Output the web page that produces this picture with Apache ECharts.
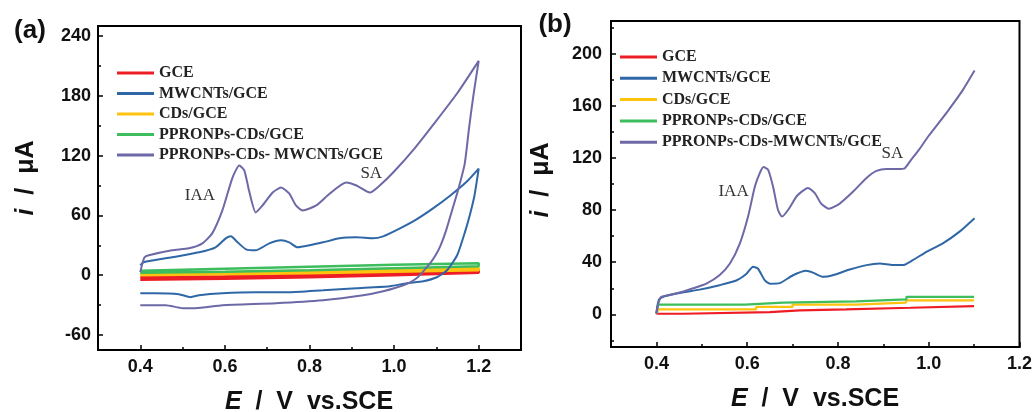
<!DOCTYPE html>
<html>
<head>
<meta charset="utf-8">
<script src="https://cdn.jsdelivr.net/npm/echarts@6/dist/echarts.min.js"></script>
<style>
html, body { margin: 0; padding: 0; background: #fff; }
#c { width: 1035px; height: 412px; }
</style>
</head>
<body>
<div id="c"></div>
<script>
// ---------- (a) cyclic voltammograms: [E / V, i / µA], forward sweep then reverse sweep ----------
const cvGCE = [[0.40, -2], [0.60, -1], [0.80, 0.5], [1.00, 2.5], [1.20, 5],
               [1.20, 2.5], [1.00, 0], [0.80, -2], [0.60, -3.5], [0.40, -4.5]];
const cvCDs = [[0.40, 1.5], [0.60, 3], [0.80, 4.5], [1.00, 6], [1.20, 7.5],
               [1.20, 5], [1.00, 3.5], [0.80, 2], [0.60, 1], [0.40, 0]];
const cvPPRONPsCDs = [[0.40, 4.5], [0.60, 6.5], [0.80, 8.5], [1.00, 10.5], [1.20, 12],
                      [1.20, 9], [1.00, 7], [0.80, 5], [0.60, 3.5], [0.40, 2.5]];
const cvMWCNTs = [
  [0.400, 10], [0.408, 13], [0.475, 18], [0.539, 23], [0.578, 28], [0.602, 37], [0.614, 39],
  [0.630, 33], [0.650, 26], [0.673, 25], [0.705, 32], [0.733, 35], [0.752, 33], [0.772, 28],
  [0.800, 30], [0.832, 33], [0.871, 37], [0.911, 38], [0.950, 37], [0.974, 39], [1.014, 47],
  [1.053, 56], [1.092, 67], [1.133, 80], [1.172, 94], [1.200, 107],
  [1.190, 80], [1.180, 62], [1.168, 44], [1.149, 20], [1.125, 5], [1.101, -2], [1.069, -6],
  [1.030, -8], [0.990, -11], [0.911, -13], [0.832, -15], [0.752, -17], [0.673, -17],
  [0.594, -18], [0.539, -20], [0.519, -22], [0.491, -19], [0.436, -18], [0.400, -18]
];
const cvComposite = [
  [0.400, 3], [0.405, 12], [0.410, 18], [0.420, 20], [0.475, 25], [0.515, 27], [0.547, 32],
  [0.570, 42], [0.594, 65], [0.618, 98], [0.634, 110], [0.646, 105], [0.657, 85], [0.673, 63],
  [0.689, 70], [0.713, 83], [0.733, 88], [0.752, 82], [0.768, 70], [0.784, 65], [0.816, 70],
  [0.848, 82], [0.887, 93], [0.911, 90], [0.943, 83], [0.966, 90], [1.000, 104], [1.050, 128],
  [1.100, 155], [1.150, 183], [1.200, 215],
  [1.187, 179], [1.177, 147], [1.167, 112], [1.151, 85], [1.137, 65], [1.123, 45], [1.110, 30],
  [1.098, 20], [1.085, 12], [1.053, -3], [1.022, -10], [0.974, -16], [0.927, -20], [0.832, -25],
  [0.720, -28], [0.594, -30], [0.530, -33], [0.500, -33], [0.460, -30], [0.400, -30]
];

// ---------- (b) differential pulse voltammograms: [E / V, i / µA] ----------
const dpGCE = [[0.400, 0.5], [0.459, 1.8], [0.650, 3.1], [0.716, 3.9], [0.818, 5.1], [0.960, 6.4], [1.100, 6.4]];
const dpCDs = [[0.400, 0.5], [0.404, 3.9], [0.620, 5.7], [0.700, 7.5], [0.840, 9.0], [0.950, 10.8], [1.100, 10.8]];
const dpPPRONPsCDs = [[0.400, 1], [0.404, 7.5], [0.595, 9.0], [0.679, 10.0], [0.840, 11.5], [0.951, 13.5], [1.100, 13.5]];
const dpMWCNTs = [
  [0.400, 0.5], [0.407, 12], [0.444, 16], [0.495, 19], [0.539, 22.4], [0.576, 26], [0.598, 31],
  [0.613, 36.5], [0.624, 35], [0.639, 26], [0.650, 23.6], [0.672, 24], [0.701, 30], [0.730, 33.4],
  [0.745, 32], [0.767, 28.8], [0.789, 30], [0.826, 34.4], [0.863, 37.8], [0.892, 39], [0.921, 37.8],
  [0.943, 37.8], [0.965, 41.6], [0.995, 48], [1.031, 54.5], [1.068, 63.5], [1.101, 73.8]
];
const dpComposite = [
  [0.400, 0.5], [0.404, 8], [0.411, 13.4], [0.444, 16], [0.481, 20], [0.510, 23.6], [0.539, 30],
  [0.562, 39], [0.584, 54.5], [0.602, 75], [0.617, 98], [0.628, 108.5], [0.636, 113], [0.646, 111],
  [0.657, 98], [0.668, 80], [0.677, 75], [0.692, 81], [0.710, 91], [0.734, 97],
  [0.749, 93], [0.763, 85], [0.780, 81], [0.804, 85], [0.833, 94], [0.863, 104.6], [0.885, 110],
  [0.907, 111.5], [0.932, 111.5], [0.947, 112], [0.960, 118], [0.980, 127], [1.000, 137],
  [1.040, 155], [1.075, 172], [1.101, 187]
];

// ---------- legend names, peak labels and axis ticks ----------
const namesA = ['GCE', 'MWCNTs/GCE', 'CDs/GCE', 'PPRONPs-CDs/GCE', 'PPRONPs-CDs- MWCNTs/GCE'];
const namesB = ['GCE', 'MWCNTs/GCE', 'CDs/GCE', 'PPRONPs-CDs/GCE', 'PPRONPs-CDs-MWCNTs/GCE'];
const peaksA = [{ name: 'IAA', coord: [0.541, 80] }, { name: 'SA', coord: [0.946, 102] }];
const peaksB = [{ name: 'IAA', coord: [0.570, 94] }, { name: 'SA', coord: [0.920, 123] }];

const xTicksA = [0.4, 0.6, 0.8, 1.0, 1.2];
const xMinorA = [0.5, 0.7, 0.9, 1.1];
const yTicksA = [-60, 0, 60, 120, 180, 240];
const yMinorA = [-30, 30, 90, 150, 210];
const xTicksB = [0.4, 0.6, 0.8, 1.0, 1.2];
const xMinorB = [0.5, 0.7, 0.9, 1.1];
const yTicksB = [0, 40, 80, 120, 160, 200];
const yMinorB = [-20, 20, 60, 100, 140, 180, 220];

const colors = {
  red: '#ee1c25',
  blue: '#2f67a6',
  yellow: '#ffc20e',
  green: '#3dbd5d',
  purple: '#6c69a6'
};

const SANS = 'Liberation Sans, Arial, sans-serif';
const SERIF = 'Liberation Serif, Times New Roman, serif';

function mainX(gi, min, max, ticks, margin) {
  return {
    type: 'value', gridIndex: gi, min: min, max: max, position: 'bottom',
    axisLine: { show: true, onZero: false, lineStyle: { color: '#000', width: 2 } },
    axisTick: { show: true, inside: true, length: 5, customValues: ticks, lineStyle: { color: '#000', width: 1.5 } },
    axisLabel: { show: true, customValues: ticks, margin: margin, formatter: v => v.toFixed(1),
                 color: '#111', fontFamily: SANS, fontWeight: 'bold', fontSize: 18 },
    splitLine: { show: false }
  };
}
function minorX(gi, min, max, ticks) {
  return {
    type: 'value', gridIndex: gi, min: min, max: max, position: 'bottom', offset: 0,
    axisLine: { show: false, onZero: false },
    axisTick: { show: true, inside: true, length: 3, customValues: ticks, lineStyle: { color: '#000', width: 1.5 } },
    axisLabel: { show: false },
    splitLine: { show: false }
  };
}
function mainY(gi, min, max, ticks, margin) {
  return {
    type: 'value', gridIndex: gi, min: min, max: max, position: 'left',
    axisLine: { show: true, onZero: false, lineStyle: { color: '#000', width: 2 } },
    axisTick: { show: true, inside: true, length: 5, customValues: ticks, lineStyle: { color: '#000', width: 1.5 } },
    axisLabel: { show: true, customValues: ticks, margin: margin,
                 color: '#111', fontFamily: SANS, fontWeight: 'bold', fontSize: 18 },
    splitLine: { show: false }
  };
}
function minorY(gi, min, max, ticks) {
  return {
    type: 'value', gridIndex: gi, min: min, max: max, position: 'left', offset: 0,
    axisLine: { show: false, onZero: false },
    axisTick: { show: true, inside: true, length: 3, customValues: ticks, lineStyle: { color: '#000', width: 1.5 } },
    axisLabel: { show: false },
    splitLine: { show: false }
  };
}

function curve(name, data, color, axisIdx, width, opts) {
  opts = opts || {};
  const s = {
    type: 'line', name: name, data: data,
    xAxisIndex: axisIdx, yAxisIndex: axisIdx,
    showSymbol: false, symbol: 'none', smooth: opts.smooth || false,
    lineStyle: { color: color, width: width },
    itemStyle: { color: color },
    animation: false
  };
  if (opts.step) s.step = 'end';
  if (opts.peaks) {
    s.markPoint = {
      symbol: 'circle', symbolSize: 1, itemStyle: { color: 'rgba(0,0,0,0)' },
      label: { show: true, position: 'inside', formatter: p => p.name,
               color: '#333', fontFamily: SERIF, fontSize: 17 },
      data: opts.peaks
    };
  }
  return s;
}

function legendAt(left, top, gap, names) {
  return {
    left: left, top: top, orient: 'vertical', icon: 'rect',
    itemWidth: 37, itemHeight: 3, itemGap: gap,
    selectedMode: false,
    textStyle: { fontFamily: SERIF, fontSize: 16, fontWeight: 'bold', color: '#222', lineHeight: 16 },
    data: names
  };
}

const titleFont = { fontFamily: SANS, fontWeight: 'bold', fontSize: 25, fill: '#111' };
function richTitle(italicPart, rest) {
  return {
    text: '{i|' + italicPart + '}{n|' + rest + '}',
    rich: {
      i: Object.assign({ fontStyle: 'italic' }, titleFont),
      n: Object.assign({}, titleFont)
    },
    fill: '#111', align: 'center', verticalAlign: 'middle'
  };
}

const chart = echarts.init(document.getElementById('c'), null, { renderer: 'canvas' });
chart.setOption({
  backgroundColor: '#fff',
  animation: false,
  grid: [
    { left: 98, top: 26, width: 423, height: 324, show: true, borderColor: '#000', borderWidth: 2, backgroundColor: 'transparent' },
    { left: 611, top: 21, width: 409, height: 326, show: true, borderColor: '#000', borderWidth: 2, backgroundColor: 'transparent' }
  ],
  xAxis: [
    mainX(0, 0.3, 1.3, xTicksA, 8), minorX(0, 0.3, 1.3, xMinorA),
    mainX(1, 0.3, 1.2, xTicksB, 8), minorX(1, 0.3, 1.2, xMinorB)
  ],
  yAxis: [
    mainY(0, -75, 250, yTicksA, 7), minorY(0, -75, 250, yMinorA),
    mainY(1, -25, 225, yTicksB, 9), minorY(1, -25, 225, yMinorB)
  ],
  legend: [legendAt(112, 60, 4.5, namesA), legendAt(615, 44, 5.3, namesB)],
  series: [
    curve(namesA[0], cvGCE, colors.red, 0, 2.5),
    curve(namesA[2], cvCDs, colors.yellow, 0, 2.5),
    curve(namesA[3], cvPPRONPsCDs, colors.green, 0, 2.5),
    curve(namesA[1], cvMWCNTs, colors.blue, 0, 2, { smooth: 0.2 }),
    curve(namesA[4], cvComposite, colors.purple, 0, 2, { smooth: 0.2, peaks: peaksA }),

    curve(namesB[0], dpGCE, colors.red, 2, 2.2, { step: true }),
    curve(namesB[2], dpCDs, colors.yellow, 2, 2.2, { step: true }),
    curve(namesB[3], dpPPRONPsCDs, colors.green, 2, 2.2, { step: true }),
    curve(namesB[1], dpMWCNTs, colors.blue, 2, 2, { smooth: 0.2 }),
    curve(namesB[4], dpComposite, colors.purple, 2, 2, { smooth: 0.2, peaks: peaksB })
  ],
  graphic: [
    { type: 'text', x: 30, y: 31, style: { text: '(a)', fontFamily: SANS, fontWeight: 'bold', fontSize: 26, fill: '#111', align: 'center', verticalAlign: 'middle' } },
    { type: 'text', x: 555, y: 25, style: { text: '(b)', fontFamily: SANS, fontWeight: 'bold', fontSize: 26, fill: '#111', align: 'center', verticalAlign: 'middle' } },
    { type: 'text', x: 309, y: 402, style: richTitle('E', '  /  V  vs.SCE') },
    { type: 'text', x: 815, y: 399, style: richTitle('E', '  /  V  vs.SCE') },
    { type: 'text', x: 26, y: 178, rotation: Math.PI / 2, style: richTitle('i', '  /  \u03bcA') },
    { type: 'text', x: 541, y: 180, rotation: Math.PI / 2, style: richTitle('i', '  /  \u03bcA') }
  ]
});
</script>
</body>
</html>
